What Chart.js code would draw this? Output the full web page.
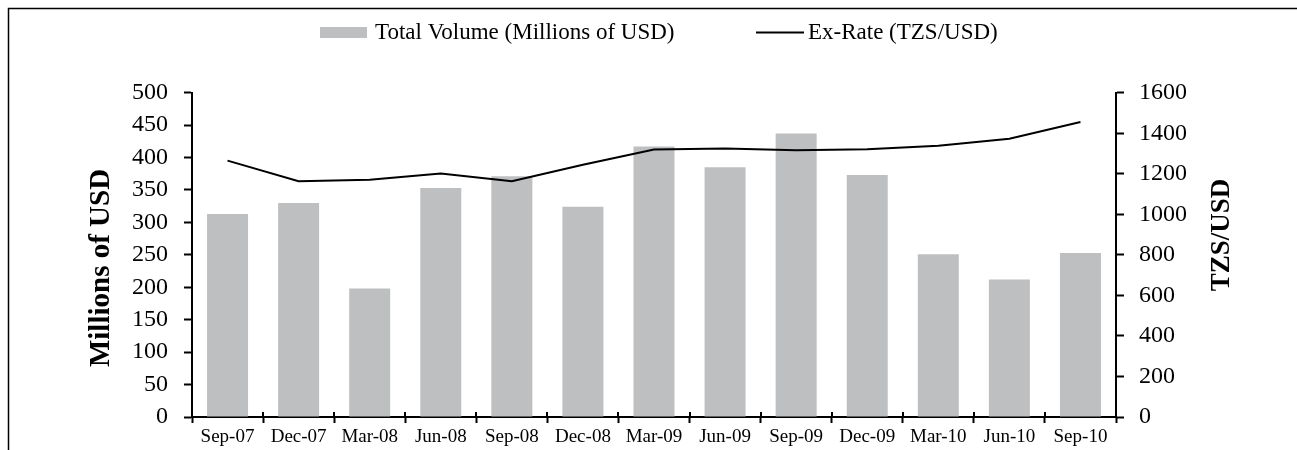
<!DOCTYPE html>
<html>
<head>
<meta charset="utf-8">
<script src="https://cdn.jsdelivr.net/npm/chart.js@4.4.0/dist/chart.umd.min.js"></script>
<style>
  html, body { margin: 0; padding: 0; background: #ffffff; }
  #wrap { width: 1297px; height: 450px; position: relative; }
</style>
</head>
<body>
<div id="wrap"><canvas id="c" width="1297" height="450"></canvas></div>
<script>
const categories = ['Sep-07', 'Dec-07', 'Mar-08', 'Jun-08', 'Sep-08', 'Dec-08', 'Mar-09', 'Jun-09', 'Sep-09', 'Dec-09', 'Mar-10', 'Jun-10', 'Sep-10'];
const volumeValues = [313, 330, 198, 353, 371, 324, 417, 385, 437, 373, 251, 212, 253];
const exRateValues = [1265, 1163, 1171, 1201, 1163, 1245, 1320, 1325, 1316, 1321, 1338, 1373, 1455];
const leftTickValues = [0, 50, 100, 150, 200, 250, 300, 350, 400, 450, 500];
const rightTickValues = [0, 200, 400, 600, 800, 1000, 1200, 1400, 1600];
const volumeLabel = 'Total Volume (Millions of USD)';
const rateLabel = 'Ex-Rate (TZS/USD)';
const leftTitle = 'Millions of USD';
const rightTitle = 'TZS/USD';

const SERIF = '"Liberation Serif", "Times New Roman", serif';
const BAR_COLOR = '#bebfc1';

const decor = {
  id: 'decor',
  afterDraw(chart) {
    const ctx = chart.ctx;
    const xs = chart.scales.x;
    ctx.save();
    // outer frame (top and left edges visible)
    ctx.strokeStyle = '#000';
    ctx.lineWidth = 1.5;
    ctx.beginPath();
    ctx.moveTo(8.5, 460);
    ctx.lineTo(8.5, 8.5);
    ctx.lineTo(1310, 8.5);
    ctx.stroke();

    // upper half of crossing category ticks
    ctx.lineWidth = 2;
    const n = chart.data.labels.length;
    const yAxis = xs.top;
    ctx.beginPath();
    for (let i = 0; i <= n; i++) {
      const x = Math.round(xs.getPixelForValue(i - 0.5));
      ctx.moveTo(x, yAxis);
      ctx.lineTo(x, yAxis - 5);
    }
    ctx.stroke();

    // legend
    const barDs = chart.data.datasets.find(d => d.type === 'bar');
    const lineDs = chart.data.datasets.find(d => d.type === 'line');
    ctx.font = '23px ' + SERIF;
    ctx.textBaseline = 'middle';
    ctx.textAlign = 'left';
    ctx.fillStyle = barDs.backgroundColor;
    ctx.fillRect(320, 27, 47, 11);
    ctx.fillStyle = '#000';
    ctx.fillText(barDs.label, 375, 33);
    ctx.strokeStyle = lineDs.borderColor;
    ctx.lineWidth = 2;
    ctx.beginPath();
    ctx.moveTo(756, 32.5);
    ctx.lineTo(804, 32.5);
    ctx.stroke();
    ctx.fillText(lineDs.label, 808, 33);

    // axis titles
    ctx.font = 'bold 29px ' + SERIF;
    ctx.textAlign = 'center';
    ctx.textBaseline = 'middle';
    ctx.save();
    ctx.translate(102, 268);
    ctx.rotate(-Math.PI / 2);
    ctx.fillText(leftTitle, 0, 0);
    ctx.restore();
    ctx.font = 'bold 27px ' + SERIF;
    ctx.save();
    ctx.translate(1222, 235);
    ctx.rotate(-Math.PI / 2);
    ctx.fillText(rightTitle, 0, 0);
    ctx.restore();
    ctx.restore();
  }
};

new Chart(document.getElementById('c'), {
  data: {
    labels: categories,
    datasets: [
      {
        type: 'bar',
        label: volumeLabel,
        data: volumeValues,
        yAxisID: 'y',
        backgroundColor: BAR_COLOR,
        borderWidth: 0,
        barPercentage: 0.577,
        categoryPercentage: 1.0,
        order: 2
      },
      {
        type: 'line',
        label: rateLabel,
        data: exRateValues,
        yAxisID: 'y1',
        borderColor: '#000000',
        backgroundColor: '#000000',
        borderWidth: 2,
        pointRadius: 0,
        tension: 0,
        order: 1
      }
    ]
  },
  options: {
    responsive: false,
    devicePixelRatio: 1,
    animation: false,
    layout: { padding: { top: 92.7, left: 0, right: 0, bottom: 0 } },
    plugins: {
      legend: { display: false },
      tooltip: { enabled: false },
      title: { display: false }
    },
    scales: {
      x: {
        type: 'category',
        offset: true,
        grid: { offset: true, drawOnChartArea: false, tickLength: 6, tickWidth: 2, tickColor: '#000' },
        border: { color: '#000', width: 2 },
        ticks: { font: { family: SERIF, size: 19 }, color: '#000', padding: 3, maxRotation: 0, autoSkip: false },
        afterFit: s => { s.height = 33; }
      },
      y: {
        position: 'left',
        min: leftTickValues[0],
        max: leftTickValues[leftTickValues.length - 1],
        ticks: { stepSize: leftTickValues[1] - leftTickValues[0], font: { family: SERIF, size: 24 }, color: '#000', padding: 16, callback: v => String(v) },
        grid: { drawOnChartArea: false, tickLength: 8, tickWidth: 2, tickColor: '#000' },
        border: { color: '#000', width: 2 },
        afterFit: s => { s.width = 192; }
      },
      y1: {
        position: 'right',
        min: rightTickValues[0],
        max: rightTickValues[rightTickValues.length - 1],
        ticks: { stepSize: rightTickValues[1] - rightTickValues[0], font: { family: SERIF, size: 24 }, color: '#000', padding: 15, callback: v => String(v) },
        grid: { drawOnChartArea: false, tickLength: 8, tickWidth: 2, tickColor: '#000' },
        border: { color: '#000', width: 2 },
        afterFit: s => { s.width = 181; }
      }
    }
  },
  plugins: [decor]
});
</script>
</body>
</html>
